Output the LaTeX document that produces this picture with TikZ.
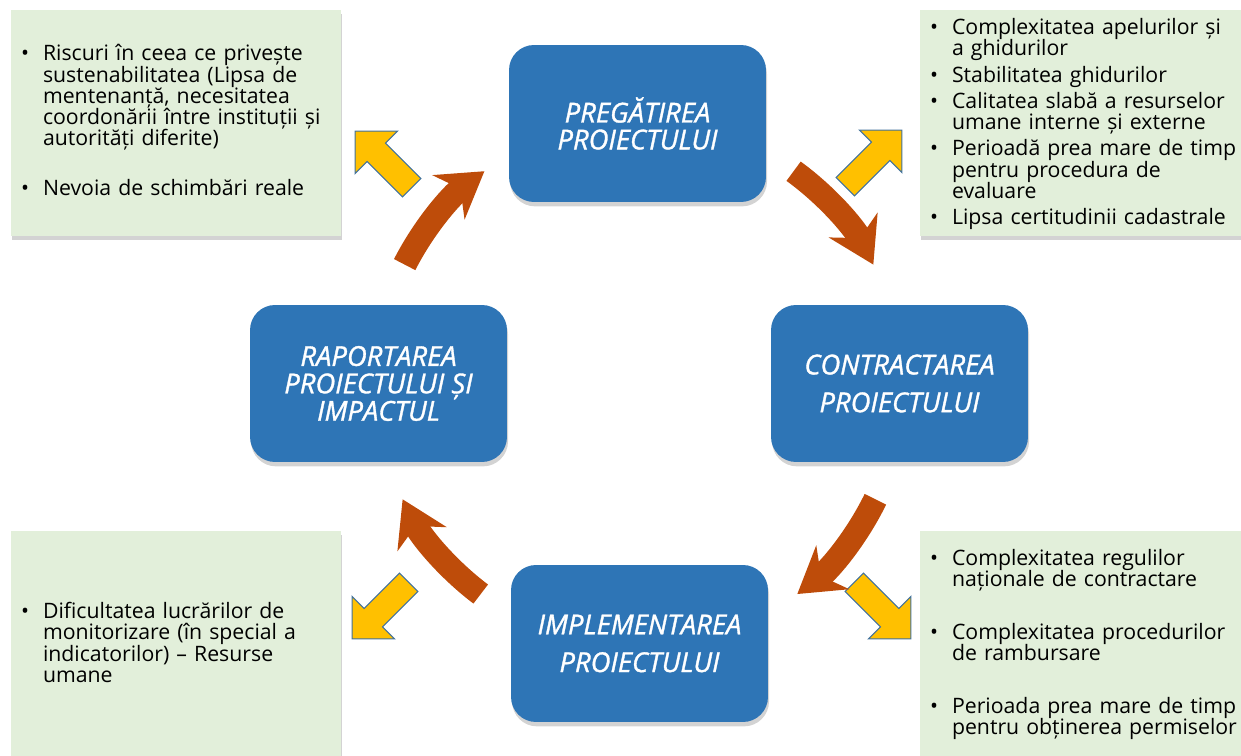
\documentclass[tikz,border=0pt]{standalone}
\usepackage{fontspec}
\setmainfont{Open Sans}
\newfontfamily\stagefont{Open Sans}[ItalicFeatures={FakeBold=1.2}]
\usetikzlibrary{arrows.meta,shapes.arrows,shadows,positioning}
\definecolor{stageblue}{RGB}{46,117,182}
\definecolor{notegreen}{RGB}{226,239,218}
\definecolor{loopbrown}{RGB}{190,76,10}
\definecolor{warnyellow}{RGB}{255,192,0}
\definecolor{warnedge}{RGB}{65,113,156}
\newenvironment{bullets}[1]{\begin{list}{\makebox[0pt][r]{\textbullet}}{\setlength{\leftmargin}{0.38cm}\setlength{\labelwidth}{0pt}\setlength{\labelsep}{0.28cm}\setlength{\itemsep}{#1}\setlength{\parsep}{0pt}\setlength{\topsep}{0pt}\setlength{\partopsep}{0pt}}}{\end{list}}

\begin{document}
\begin{tikzpicture}
	[x=0.02cm, y=-0.02cm, font=\fontsize{12.1pt}{12.1pt}\selectfont,
	stage/.style	= {rectangle, rounded corners=0.5cm, fill=stageblue, text=white, align=center, minimum width=5.14cm, minimum height=3.14cm, inner sep=0pt, font=\stagefont\fontsize{15.6pt}{#1}\selectfont\itshape, drop shadow={shadow xshift=0.6pt, shadow yshift=-2.5pt, opacity=0.35}},
	stage/.default	= 15.3pt,
	note/.style	= {rectangle, fill=notegreen, minimum width=6.6cm, minimum height=4.52cm, inner sep=0pt, drop shadow={shadow xshift=0.6pt, shadow yshift=-2.5pt, opacity=0.35}},
	notetext/.style	= {text width=6.6cm, align=left, inner sep=0pt, anchor=west, xshift=0.26cm},
	warn/.style	= {single arrow, fill=warnyellow, draw=warnedge, line width=0.6pt, inner sep=0pt, inner ysep=0.25cm, single arrow head extend=0.34cm, minimum height=1.6cm},
	loopflow/.style	= {draw=loopbrown, line width=0.48cm, -{Stealth[length=0.88cm, width=1.08cm]}}]
	
	\useasboundingbox (0,0) rectangle (1241,756);
	
	% green boxes with the risks of each stage
	\node at (176,123)		[note]	(risks)	{};
	\node at (1085,123)		[note]	(calls)	{};
	\node at (1085,644)		[note]	(rules)	{};
	\node at (176,644)		[note]	(monit)	{};
	
	\node at (risks.west)	[notetext, yshift=0.11cm]	(riskstext)	{\begin{bullets}{16pt}
		\item Riscuri în ceea ce privește\newline sustenabilitatea (Lipsa de\newline mentenanță, necesitatea\newline coordonării între instituții și\newline autorități diferite)
		\item Nevoia de schimbări reale
		\end{bullets}};
	\node at (calls.west)	[notetext, yshift=0.03cm]	(callstext)	{\begin{bullets}{2.8pt}
		\item Complexitatea apelurilor și\newline a ghidurilor
		\item Stabilitatea ghidurilor
		\item Calitatea slabă a resurselor\newline umane interne și externe
		\item Perioadă prea mare de timp\newline pentru procedura de\newline evaluare
		\item Lipsa certitudinii cadastrale
		\end{bullets}};
	\node at (rules.west)	[notetext, yshift=0.04cm]	(rulestext)	{\begin{bullets}{18pt}
		\item Complexitatea regulilor\newline naționale de contractare
		\item Complexitatea procedurilor\newline de rambursare
		\item Perioada prea mare de timp\newline pentru obținerea permiselor
		\end{bullets}};
	\node at (monit.west)	[notetext, yshift=0.08cm]	(monittext)	{\begin{bullets}{0pt}
		\item Dificultatea lucrărilor de\newline monitorizare (în special a\newline indicatorilor) – Resurse\newline umane
		\end{bullets}};
	
	% project stages
	\node at (637.5,123.5)	[stage]			(prep)		{PREGĂTIREA\\PROIECTULUI};
	\node at (899.5,383.5)	[stage=21.5pt]	(contract)	{CONTRACTAREA\\PROIECTULUI};
	\node at (639.5,643.5)	[stage=21.5pt]	(impl)		{IMPLEMENTAREA\\PROIECTULUI};
	\node at (378.5,383.5)	[stage=15.6pt]	(report)	{RAPORTAREA\\PROIECTULUI ȘI\\IMPACTUL};
	
	\node at (388,164)		[warn, rotate=135]	(w1)	{};
	\node at (869,163)		[warn, rotate=45]	(w2)	{};
	\node at (878,606)		[warn, rotate=-45]	(w3)	{};
	\node at (385,606)		[warn, rotate=-135]	(w4)	{};
	
	% cycle between the stages
	\coordinate (hub) at (639,384);
	\draw [loopflow] ([shift={(-153:263)}]hub) arc [start angle=-153, end angle=-126, radius=263];
	\draw [loopflow] ([shift={(-54:263)}]hub) arc [start angle=-54, end angle=-27, radius=263];
	\draw [loopflow] ([shift={(26:263)}]hub) arc [start angle=26, end angle=53, radius=263];
	\draw [loopflow] ([shift={(127:263)}]hub) arc [start angle=127, end angle=154, radius=263];
	
\end{tikzpicture}
\end{document}
